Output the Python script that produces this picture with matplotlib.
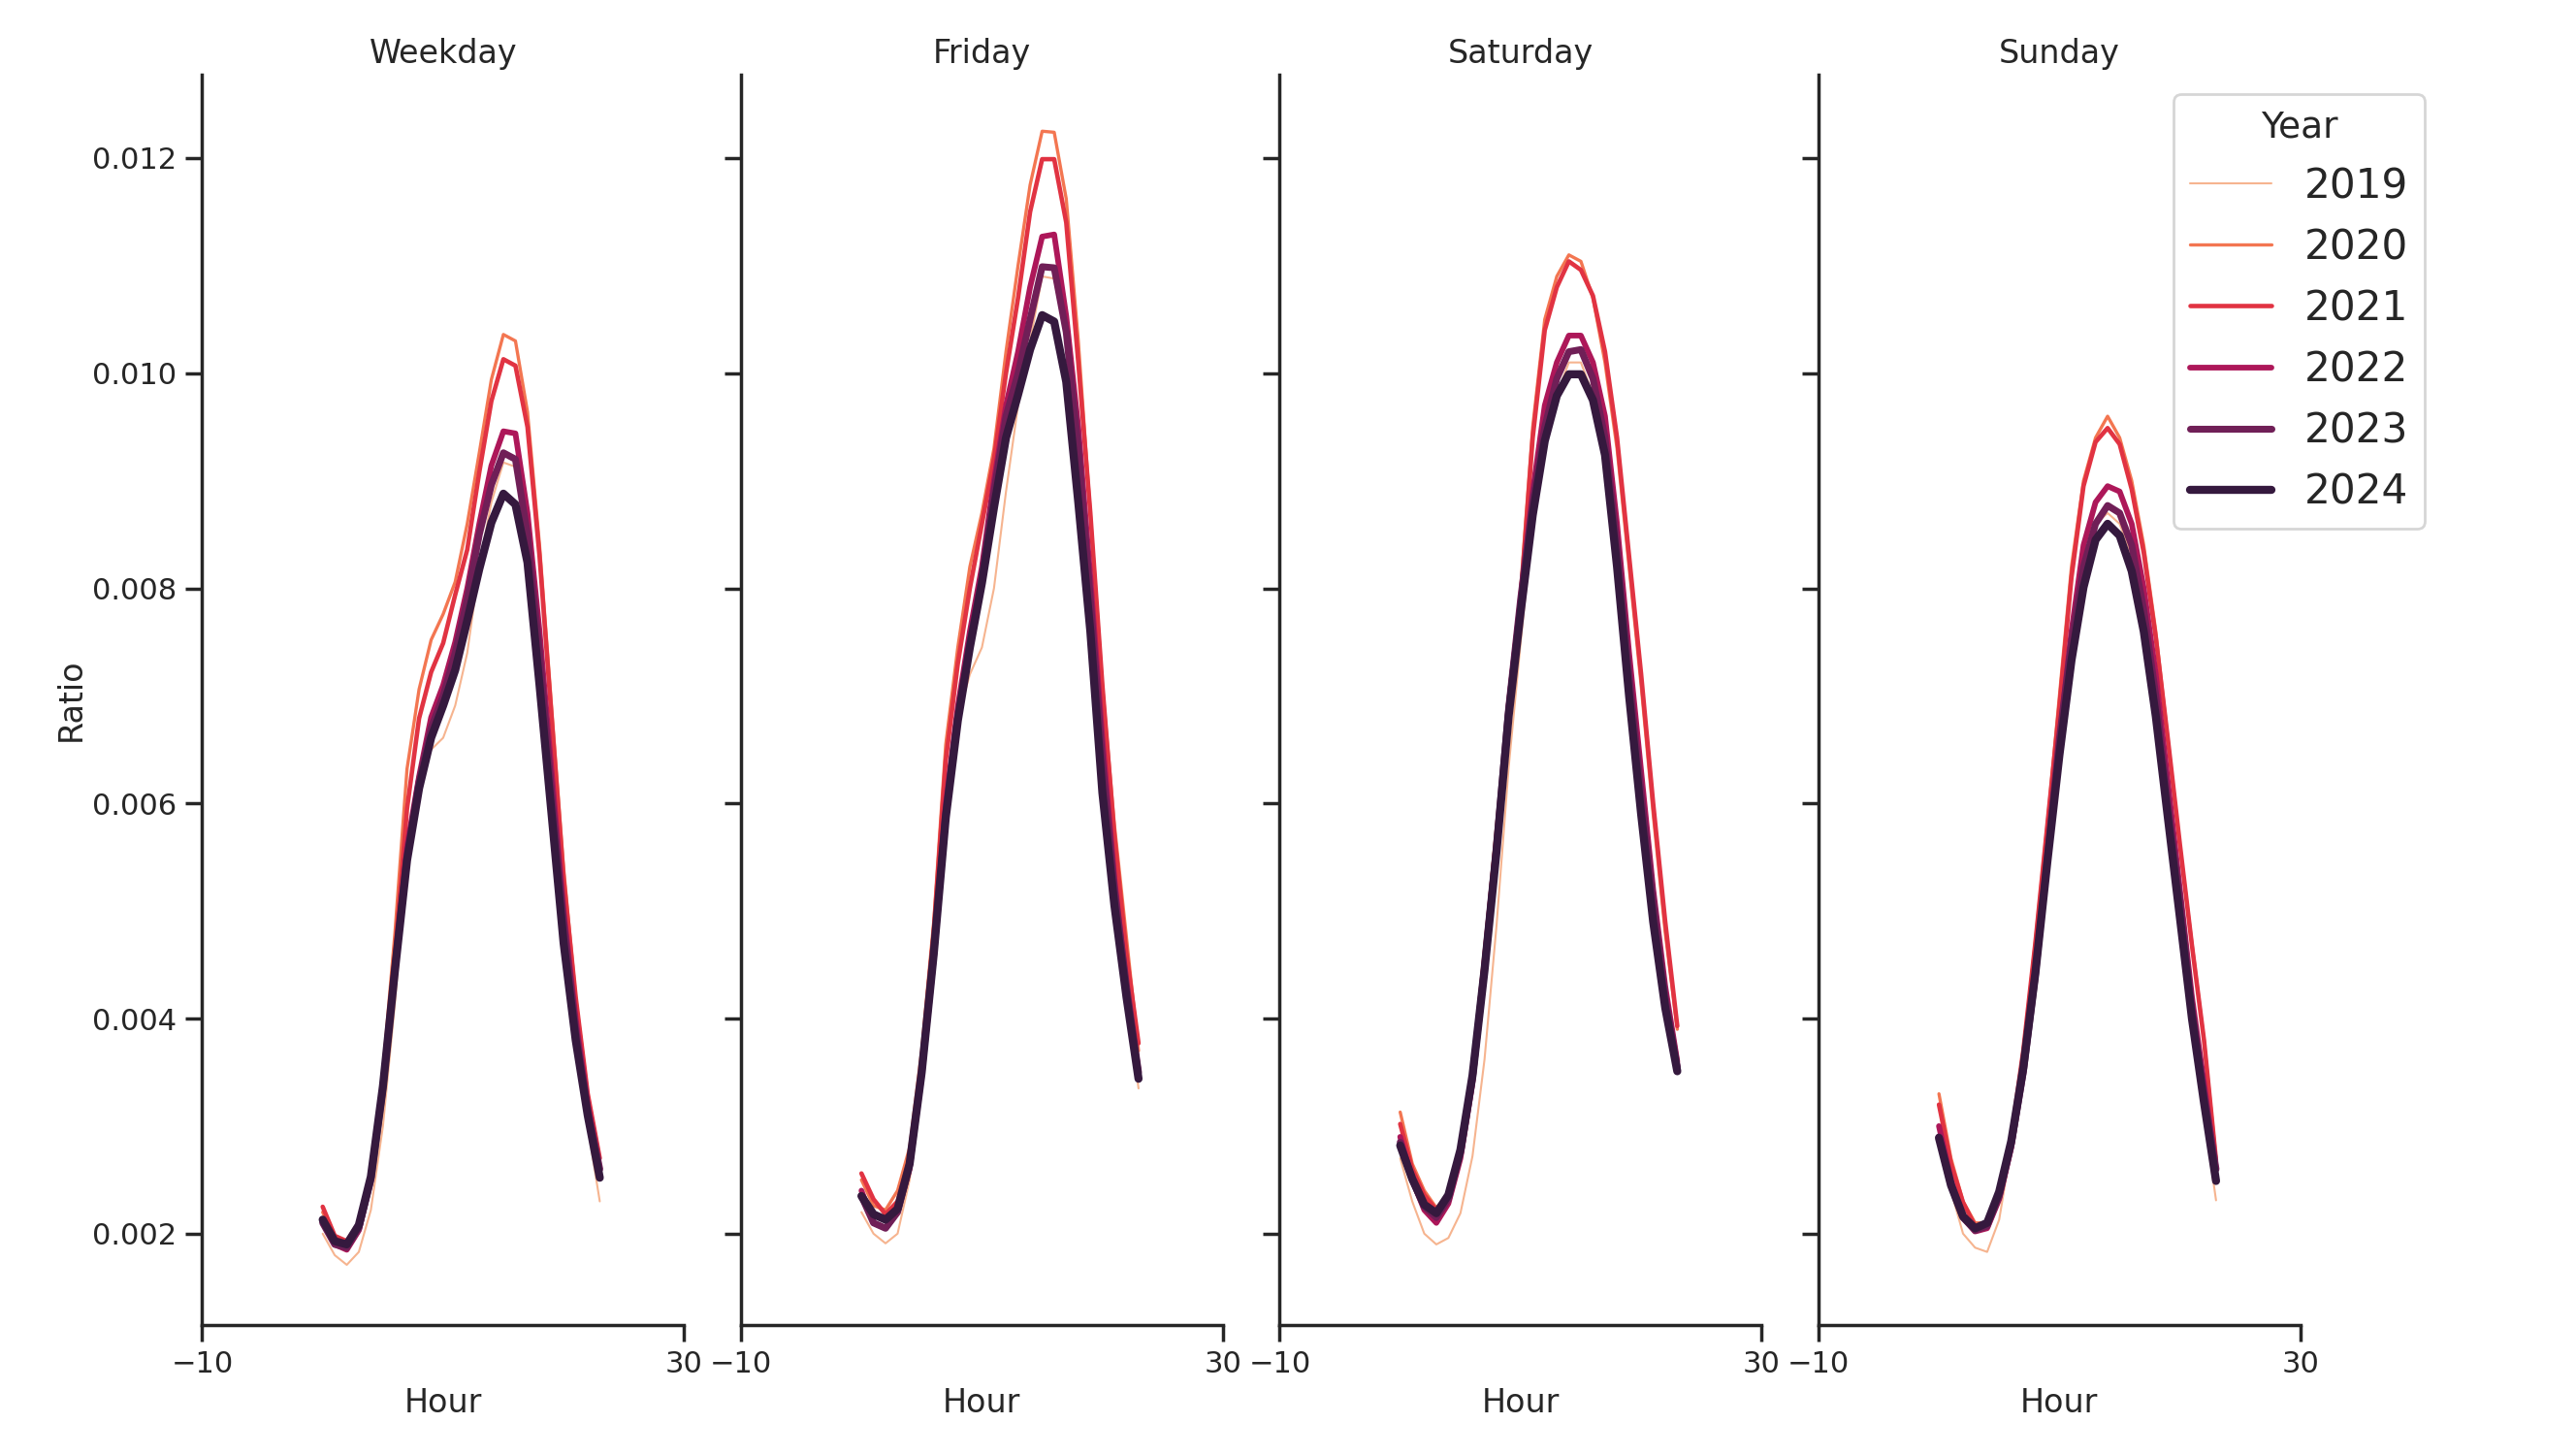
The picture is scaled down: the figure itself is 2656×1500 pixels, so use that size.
import matplotlib
matplotlib.use("Agg")
import matplotlib.pyplot as plt

hours = list(range(24))
years = ["2019", "2020", "2021", "2022", "2023", "2024"]
panels = ["Weekday", "Friday", "Saturday", "Sunday"]
colors = ["#f6b48f", "#f37651", "#e13342", "#ad1759", "#701f57", "#35193e"]
widths = [0.75, 1.2, 1.65, 2.1, 2.55, 3.0]

weekday_2019 = [0.0020, 0.0018, 0.00171, 0.00183, 0.00222, 0.0030, 0.00415, 0.0055, 0.00619,
                0.0065, 0.00661, 0.00691, 0.0074, 0.0082, 0.0088, 0.00917, 0.00913,
                0.0086, 0.0075, 0.0062, 0.0049, 0.0038, 0.0030, 0.0023]
weekday_2020 = [0.0022, 0.00195, 0.0019, 0.00205, 0.0025, 0.0035, 0.0048, 0.00632, 0.00706,
                0.00752, 0.00776, 0.00806, 0.0086, 0.00926, 0.00994, 0.01036, 0.0103,
                0.00964, 0.0084, 0.0069, 0.0054, 0.0042, 0.0033, 0.0027]
weekday_2021 = [0.00225, 0.00198, 0.00193, 0.0021, 0.0025, 0.0034, 0.0046, 0.00595, 0.00679,
                0.00722, 0.00749, 0.00794, 0.00836, 0.00908, 0.00974, 0.01013, 0.01007,
                0.0095, 0.0083, 0.0068, 0.0053, 0.0042, 0.0033, 0.0027]
weekday_2022 = [0.0021, 0.0019, 0.00185, 0.00203, 0.0025, 0.0034, 0.0045, 0.0056, 0.00625,
                0.0068, 0.0071, 0.0075, 0.0080, 0.0086, 0.00914, 0.00946, 0.00944,
                0.0087, 0.0076, 0.0063, 0.0050, 0.0040, 0.0032, 0.0026]
weekday_2023 = [0.0021, 0.0019, 0.00187, 0.00205, 0.0025, 0.00335, 0.00447, 0.0055, 0.0062,
                0.0067, 0.0070, 0.0074, 0.0079, 0.0085, 0.00896, 0.00926, 0.0092,
                0.0085, 0.0074, 0.0061, 0.0049, 0.0039, 0.00315, 0.0026]
weekday_2024 = [0.00213, 0.00193, 0.0019, 0.00208, 0.00253, 0.00337, 0.00445, 0.00547, 0.00614,
                0.00661, 0.00691, 0.00724, 0.0077, 0.00818, 0.00861, 0.00888, 0.00878,
                0.00824, 0.0071, 0.0059, 0.0047, 0.0038, 0.0031, 0.00252]

friday_2019 = [0.0022, 0.0020, 0.00191, 0.0020, 0.0025, 0.0034, 0.0046, 0.0060, 0.0068,
               0.0072, 0.00745, 0.0080, 0.0089, 0.0097, 0.0103, 0.0109, 0.01088,
               0.0103, 0.0092, 0.0077, 0.0062, 0.0051, 0.0042, 0.00335]
friday_2020 = [0.0025, 0.00226, 0.00222, 0.0024, 0.0028, 0.0037, 0.0049, 0.00655, 0.00745,
               0.0082, 0.0087, 0.0093, 0.0102, 0.0110, 0.01175, 0.01225, 0.01224,
               0.01162, 0.0103, 0.0087, 0.0071, 0.0058, 0.00475, 0.0037]
friday_2021 = [0.00256, 0.00232, 0.00218, 0.0023, 0.0027, 0.0036, 0.0048, 0.0064, 0.0073,
               0.0080, 0.0086, 0.0092, 0.0100, 0.0107, 0.0115, 0.01199, 0.01199,
               0.0114, 0.0101, 0.0087, 0.0071, 0.0057, 0.0046, 0.00377]
friday_2022 = [0.0024, 0.0021, 0.00205, 0.0022, 0.0026, 0.0035, 0.0046, 0.0060, 0.0069,
               0.0076, 0.0082, 0.0090, 0.0097, 0.0102, 0.0108, 0.01127, 0.01129,
               0.01053, 0.0095, 0.0081, 0.0066, 0.0053, 0.0043, 0.0035]
friday_2023 = [0.00235, 0.0021, 0.00205, 0.0022, 0.00265, 0.0035, 0.0046, 0.0059, 0.0068,
               0.0075, 0.0081, 0.0089, 0.0096, 0.0100, 0.0105, 0.01099, 0.01098,
               0.01038, 0.0093, 0.0079, 0.0064, 0.0052, 0.0043, 0.0035]
friday_2024 = [0.00235, 0.00218, 0.00213, 0.00223, 0.00265, 0.0035, 0.0046, 0.00587, 0.00677,
               0.00745, 0.00805, 0.00875, 0.0094, 0.0098, 0.01022, 0.01054, 0.01048,
               0.00992, 0.0088, 0.0076, 0.0061, 0.00505, 0.0042, 0.00344]

saturday_2019 = [0.0027, 0.0023, 0.0020, 0.0019, 0.00196, 0.00219, 0.00272, 0.00362, 0.00487,
                 0.00633, 0.0075, 0.0086, 0.0093, 0.0098, 0.0101, 0.0101, 0.0098,
                 0.0093, 0.0083, 0.0071, 0.0060, 0.0050, 0.0041, 0.0035]
saturday_2020 = [0.00313, 0.00265, 0.0024, 0.00224, 0.00236, 0.0028, 0.0035, 0.0046, 0.0058,
                 0.0069, 0.0080, 0.0095, 0.0105, 0.0109, 0.0111, 0.01104, 0.0107,
                 0.0101, 0.0093, 0.0082, 0.0071, 0.0059, 0.0048, 0.0039]
saturday_2021 = [0.00302, 0.0026, 0.00236, 0.00222, 0.00235, 0.0028, 0.0035, 0.0046, 0.0057,
                 0.0069, 0.0079, 0.0094, 0.0104, 0.0108, 0.01104, 0.01096, 0.01072,
                 0.0102, 0.0094, 0.0083, 0.0072, 0.0060, 0.0049, 0.00393]
saturday_2022 = [0.0029, 0.0025, 0.00222, 0.0021, 0.00228, 0.0027, 0.0034, 0.00445, 0.0056,
                 0.0069, 0.0079, 0.0089, 0.0097, 0.0101, 0.01035, 0.01035, 0.0101,
                 0.0096, 0.0086, 0.0074, 0.0063, 0.0052, 0.0043, 0.0036]
saturday_2023 = [0.00285, 0.0025, 0.00225, 0.00215, 0.00232, 0.00275, 0.00345, 0.00447, 0.0056,
                 0.00688, 0.0079, 0.0088, 0.0095, 0.00995, 0.0102, 0.01022, 0.00995,
                 0.0094, 0.0084, 0.0072, 0.0061, 0.0051, 0.0042, 0.00355]
saturday_2024 = [0.00282, 0.00251, 0.00227, 0.00219, 0.00236, 0.00278, 0.00347, 0.00445, 0.00556,
                 0.00681, 0.00778, 0.00868, 0.00937, 0.00979, 0.00999, 0.00999, 0.00975,
                 0.00924, 0.0082, 0.0070, 0.0059, 0.0049, 0.0041, 0.00351]

sunday_2019 = [0.0029, 0.0024, 0.0020, 0.00187, 0.00183, 0.00213, 0.00281, 0.00369, 0.00478,
               0.00587, 0.0068, 0.0076, 0.0082, 0.0086, 0.0087, 0.0086, 0.0083,
               0.0077, 0.0069, 0.0059, 0.0050, 0.0040, 0.0031, 0.00231]
sunday_2020 = [0.0033, 0.0027, 0.0023, 0.0021, 0.0021, 0.0024, 0.0029, 0.0037, 0.0047,
               0.0058, 0.0070, 0.0082, 0.0090, 0.0094, 0.0096, 0.0094, 0.0090,
               0.0084, 0.0076, 0.0066, 0.0056, 0.0047, 0.0038, 0.0027]
sunday_2021 = [0.0032, 0.00265, 0.00229, 0.00207, 0.0021, 0.0024, 0.0029, 0.0037, 0.0047,
               0.0058, 0.0069, 0.0081, 0.00895, 0.00936, 0.00949, 0.00934, 0.00892,
               0.00833, 0.00754, 0.0066, 0.00562, 0.00468, 0.0038, 0.00268]
sunday_2022 = [0.0030, 0.0025, 0.00215, 0.00202, 0.00205, 0.00232, 0.0028, 0.0035, 0.0044,
               0.0055, 0.0066, 0.0076, 0.0084, 0.0088, 0.00895, 0.0089, 0.0086,
               0.0080, 0.0072, 0.0062, 0.0052, 0.0042, 0.0034, 0.0026]
sunday_2023 = [0.0029, 0.00245, 0.00215, 0.00203, 0.00207, 0.00235, 0.00283, 0.0035, 0.0044,
               0.0055, 0.0066, 0.0075, 0.0082, 0.0086, 0.00877, 0.0087, 0.0084,
               0.0078, 0.0070, 0.0060, 0.0051, 0.0041, 0.0033, 0.0026]
sunday_2024 = [0.00289, 0.00245, 0.00216, 0.00205, 0.0021, 0.00239, 0.00286, 0.00354, 0.00442,
               0.00546, 0.00645, 0.00733, 0.00801, 0.00845, 0.0086, 0.00849, 0.00816,
               0.0076, 0.00681, 0.00587, 0.00494, 0.004, 0.00322, 0.00249]

data = {
    "Weekday": [weekday_2019, weekday_2020, weekday_2021, weekday_2022, weekday_2023, weekday_2024],
    "Friday": [friday_2019, friday_2020, friday_2021, friday_2022, friday_2023, friday_2024],
    "Saturday": [saturday_2019, saturday_2020, saturday_2021, saturday_2022, saturday_2023, saturday_2024],
    "Sunday": [sunday_2019, sunday_2020, sunday_2021, sunday_2022, sunday_2023, sunday_2024],
}

ink = "#262626"
plt.rcParams.update({
    "font.family": ["DejaVu Sans"],
    "text.color": ink,
    "axes.labelcolor": ink,
    "xtick.color": ink,
    "ytick.color": ink,
    "axes.edgecolor": ink,
    "axes.linewidth": 1.25,
    "xtick.major.width": 1.25,
    "ytick.major.width": 1.25,
    "xtick.major.size": 6,
    "ytick.major.size": 6,
    "xtick.labelsize": 11,
    "ytick.labelsize": 11,
    "axes.labelsize": 12,
    "axes.titlesize": 12,
})

fig, axes = plt.subplots(1, 4, sharey=True, figsize=(13.28, 7.5), dpi=200)
fig.subplots_adjust(left=0.0785, right=0.893, bottom=0.0893, top=0.949, wspace=0.118)

handles = []
for ax, panel in zip(axes, panels):
    for yi, year in enumerate(years):
        ln, = ax.plot(hours, data[panel][yi], color=colors[yi], lw=widths[yi],
                      solid_capstyle="round", label=year)
        if panel == panels[0]:
            handles.append(ln)
    ax.set_title(panel, pad=4.2)
    ax.set_xlim(-10, 30)
    ax.set_xticks([-10, 30])
    ax.set_xlabel("Hour", labelpad=3)
    ax.spines["top"].set_visible(False)
    ax.spines["right"].set_visible(False)
    ax.tick_params(axis="y", labelleft=(panel == panels[0]))

axes[0].set_ylim(0.00115, 0.01278)
axes[0].set_yticks([0.002, 0.004, 0.006, 0.008, 0.010, 0.012])
axes[0].set_ylabel("Ratio", labelpad=2)

leg = fig.legend(handles=handles, labels=years, title="Year", loc="upper right",
                 bbox_to_anchor=(0.9413, 0.9353), borderaxespad=0.0,
                 fontsize=15.2, title_fontsize=13.5,
                 frameon=True, edgecolor="0.8", fancybox=True)

fig.savefig("out.png", dpi=200)
